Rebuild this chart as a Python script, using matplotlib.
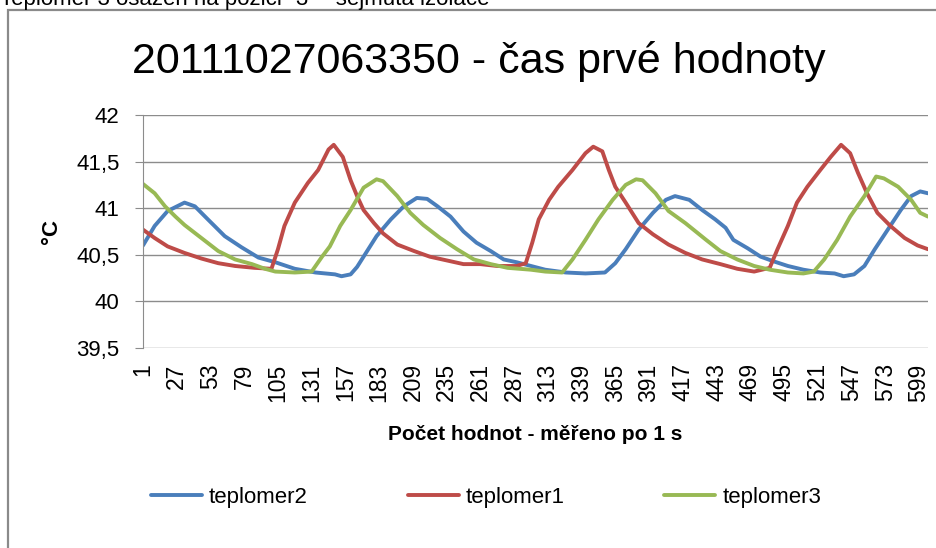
import numpy as np
import matplotlib
matplotlib.use("Agg")
import matplotlib.pyplot as plt
from matplotlib.patches import Rectangle

plt.rcParams['font.family'] = ['Liberation Sans', 'DejaVu Sans']

# values (sample index, temperature in deg C)
t2_x = [1, 10, 20, 33, 41, 51, 64, 77, 90, 103, 118, 134, 149, 154, 161, 166, 171, 181, 192, 202,
        212, 220, 228, 238, 248, 258, 269, 279, 289, 300, 311, 327, 342, 357, 365, 373, 383, 394,
        404, 411, 422, 432, 442, 450, 456, 467, 477, 487, 498, 510, 523, 534, 541, 549, 557, 565,
        575, 585, 593, 600, 606]
t2_y = [40.60, 40.81, 40.97, 41.06, 41.02, 40.88, 40.70, 40.58, 40.47, 40.42, 40.35, 40.31, 40.29,
        40.27, 40.29, 40.37, 40.48, 40.70, 40.88, 41.02, 41.11, 41.10, 41.02, 40.91, 40.75, 40.63,
        40.54, 40.45, 40.42, 40.38, 40.34, 40.31, 40.30, 40.31, 40.41, 40.56, 40.77, 40.95, 41.09,
        41.13, 41.09, 40.98, 40.88, 40.79, 40.66, 40.57, 40.48, 40.43, 40.38, 40.34, 40.31, 40.30,
        40.27, 40.29, 40.38, 40.56, 40.77, 40.98, 41.13, 41.18, 41.16]

t1_x = [1, 10, 20, 33, 46, 59, 72, 87, 100, 105, 110, 118, 128, 136, 144, 148, 155, 161, 166, 171,
        179, 186, 197, 210, 222, 235, 248, 261, 274, 289, 296, 301, 306, 314, 321, 332, 342, 348,
        355, 360, 365, 373, 383, 394, 406, 419, 432, 446, 459, 472, 484, 490, 498, 505, 513, 523,
        531, 539, 546, 552, 559, 567, 577, 588, 598, 606]
t1_y = [40.77, 40.68, 40.59, 40.52, 40.46, 40.41, 40.38, 40.36, 40.35, 40.56, 40.81, 41.06, 41.27,
        41.41, 41.63, 41.68, 41.55, 41.30, 41.13, 40.98, 40.84, 40.73, 40.61, 40.54, 40.48, 40.44,
        40.40, 40.40, 40.38, 40.38, 40.41, 40.63, 40.88, 41.09, 41.23, 41.41, 41.59, 41.66, 41.61,
        41.41, 41.23, 41.06, 40.84, 40.72, 40.61, 40.52, 40.45, 40.40, 40.35, 40.32, 40.36, 40.56,
        40.81, 41.06, 41.23, 41.41, 41.55, 41.68, 41.59, 41.38, 41.16, 40.95, 40.81, 40.68, 40.60,
        40.56]

t3_x = [1, 10, 18, 26, 33, 46, 59, 72, 85, 95, 103, 118, 131, 139, 145, 153, 161, 171, 181, 186,
        197, 207, 217, 230, 243, 256, 269, 282, 300, 311, 324, 332, 342, 352, 363, 373, 381, 386,
        396, 406, 419, 435, 446, 459, 472, 484, 498, 510, 518, 526, 536, 546, 557, 566, 572, 583,
        593, 600, 606]
t3_y = [41.26, 41.16, 41.02, 40.91, 40.82, 40.68, 40.54, 40.45, 40.40, 40.35, 40.32, 40.31, 40.32,
        40.48, 40.59, 40.81, 40.98, 41.22, 41.31, 41.29, 41.13, 40.95, 40.82, 40.68, 40.56, 40.45,
        40.40, 40.36, 40.34, 40.32, 40.31, 40.45, 40.66, 40.88, 41.09, 41.25, 41.31, 41.30, 41.16,
        40.97, 40.84, 40.66, 40.54, 40.45, 40.38, 40.34, 40.31, 40.30, 40.32, 40.45, 40.66, 40.91,
        41.13, 41.34, 41.32, 41.23, 41.09, 40.95, 40.91]

x_ticks = list(range(1, 600, 26))
y_ticks = [39.5, 40, 40.5, 41, 41.5, 42]
y_labels = ["39,5", "40", "40,5", "41", "41,5", "42"]

blue = "#4A7EBB"
red = "#BE4B48"
green = "#98B954"
grid_c = "#8C8C8C"

fig = plt.figure(figsize=(9.37, 5.48), dpi=100)
ax = fig.add_axes([143/937, 1-348/548, (928-143)/937, (348-115)/548])

ax.plot(t2_x, t2_y, color=blue, lw=2.8, label="teplomer2", solid_capstyle="round")
ax.plot(t1_x, t1_y, color=red, lw=2.8, label="teplomer1", solid_capstyle="round")
ax.plot(t3_x, t3_y, color=green, lw=2.8, label="teplomer3", solid_capstyle="round")

ax.set_xlim(1, 606)
ax.set_ylim(39.5, 42)
ax.set_yticks(y_ticks)
ax.set_yticklabels(y_labels, fontsize=16)
ax.set_xticks(x_ticks)
ax.set_xticklabels([str(v) for v in x_ticks], rotation=90, fontsize=16.5)
ax.tick_params(axis='y', length=6, color=grid_c, pad=11)
ax.tick_params(axis='x', length=0, pad=11)
ax.grid(axis='y', color=grid_c, lw=1)
ax.set_axisbelow(True)
for s in ["top", "right", "bottom"]:
    ax.spines[s].set_visible(False)
ax.spines["left"].set_color(grid_c)

ax.set_ylabel("°C", fontsize=16, fontweight="bold", labelpad=10)
ax.set_xlabel("Počet hodnot - měřeno po 1 s", fontsize=15, fontweight="bold", labelpad=17)

fig.text(479/937, 1-62/548, "20111027063350 - čas prvé hodnoty", fontsize=31,
         ha="center", va="center")

# cut-off caption above chart
fig.text(0.0, 1-5/548, "Teplomer 3 osazen na pozici \"3\" - sejmutá izolace", fontsize=16,
         ha="left", va="baseline")

# chart frame
fig.patches.append(Rectangle((8/937, -0.1), 1.2, 1.1-10/548, transform=fig.transFigure,
                             fill=False, edgecolor="#8A8A8A", lw=1.6))

fig.legend(loc="center", bbox_to_anchor=(486/937, 1-497/548), ncol=3, frameon=False,
           fontsize=16, handlelength=2.3, handletextpad=0.3, columnspacing=4.5)

fig.savefig("out.png", dpi=100)
